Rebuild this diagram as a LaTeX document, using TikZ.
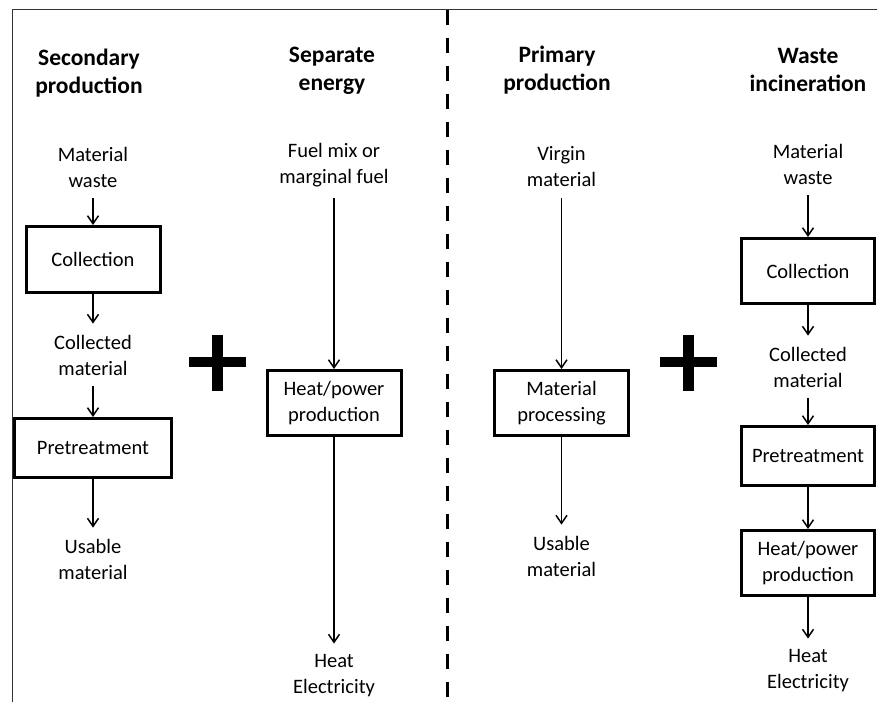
\documentclass[tikz,border=0pt]{standalone}
\usepackage{fontspec}
\setmainfont{Carlito}
\usetikzlibrary{arrows.meta,positioning}
\newcommand{\txtsize}{\fontsize{20.5}{26}\selectfont}
\newcommand{\headsize}{\fontsize{23.5}{28.5}\selectfont\bfseries}
\tikzset{
  >={Straight Barb[length=8pt,width=11pt]},
  box/.style={draw, line width=3pt, minimum width=134pt, minimum height=65pt, align=center, font=\txtsize, inner sep=0pt},
  lbl/.style={align=center, font=\txtsize, inner xsep=0pt, inner ysep=11pt},
  head/.style={align=center, font=\headsize, inner sep=0pt},
  conn/.style={->, line width=1.5pt},
  plus/.style={fill=black},
}

\begin{document}
\begin{tikzpicture}[x=1pt, y=-1pt]
  \useasboundingbox (0,0) rectangle (877,702);
  % frame and divider
  \draw[line width=1.3pt, black!80] (877,9.5) -| (12.5,702);
  \draw[line width=3.5pt, dash pattern=on 15pt off 13pt] (447.5,10) -- (447.5,702);

  % secondary production
  \node[head] (t1) at (89,73) {Secondary\\production};
  \node[lbl] (mw1) at (93,167) {Material\\waste};
  \node[box, minimum height=66pt] (coll1) at (93,259.5) {Collection};
  \node[lbl] (cm1) at (93,355) {Collected\\material};
  \node[box, minimum width=157pt, minimum height=59pt] (pre1) at (93,448) {Pretreatment};
  \node[lbl] (um1) at (93,559) {Usable\\material};

  % separate energy
  \node[head] (t2) at (332,71) {Separate\\energy};
  \node[lbl] (fuel) at (334,165) {Fuel mix or\\marginal fuel};
  \node[box] (hp2) at (334,403) {Heat/power\\production};
  \node[lbl] (heat2) at (334,676) {Heat\\Electricity};

  % primary production
  \node[head] (t3) at (557,70) {Primary\\production};
  \node[lbl] (vm) at (561.5,167) {Virgin\\material};
  \node[box] (mp) at (561.5,403) {Material\\processing};
  \node[lbl] (um3) at (561.5,556) {Usable\\material};

  % waste incineration
  \node[head] (t4) at (808,70) {Waste\\incineration};
  \node[lbl] (mw4) at (808,164) {Material\\waste};
  \node[box, minimum width=133pt] (coll4) at (808,271) {Collection};
  \node[lbl] (cm4) at (808,367) {Collected\\material};
  \node[box, minimum width=133pt, minimum height=59pt] (pre4) at (808,456) {Pretreatment};
  \node[box, minimum width=133pt] (hp4) at (808,563) {Heat/power\\production};
  \node[lbl] (heat4) at (808,671) {Heat\\Electricity};

  % connections
  \draw[conn] (mw1) -- (coll1);
  \draw[conn] (coll1) -- (cm1);
  \draw[conn] (cm1) -- (pre1);
  \draw[conn] (pre1) -- (um1);
  \draw[conn] (fuel) -- (hp2);
  \draw[conn] (hp2) -- (heat2);
  \draw[conn] (vm) -- (mp);
  \draw[conn] (mp) -- (um3);
  \draw[conn] (mw4) -- (coll4);
  \draw[conn] (coll4) -- (cm4);
  \draw[conn] (cm4) -- (pre4);
  \draw[conn] (pre4) -- (hp4);
  \draw[conn] (hp4) -- (heat4);

  % plus signs
  \foreach \px in {217,688} {
    \fill[plus] (\px-28.5,357) rectangle ++(57,10);
    \fill[plus] (\px-5.5,335) rectangle ++(11,56);
  }
\end{tikzpicture}
\end{document}
